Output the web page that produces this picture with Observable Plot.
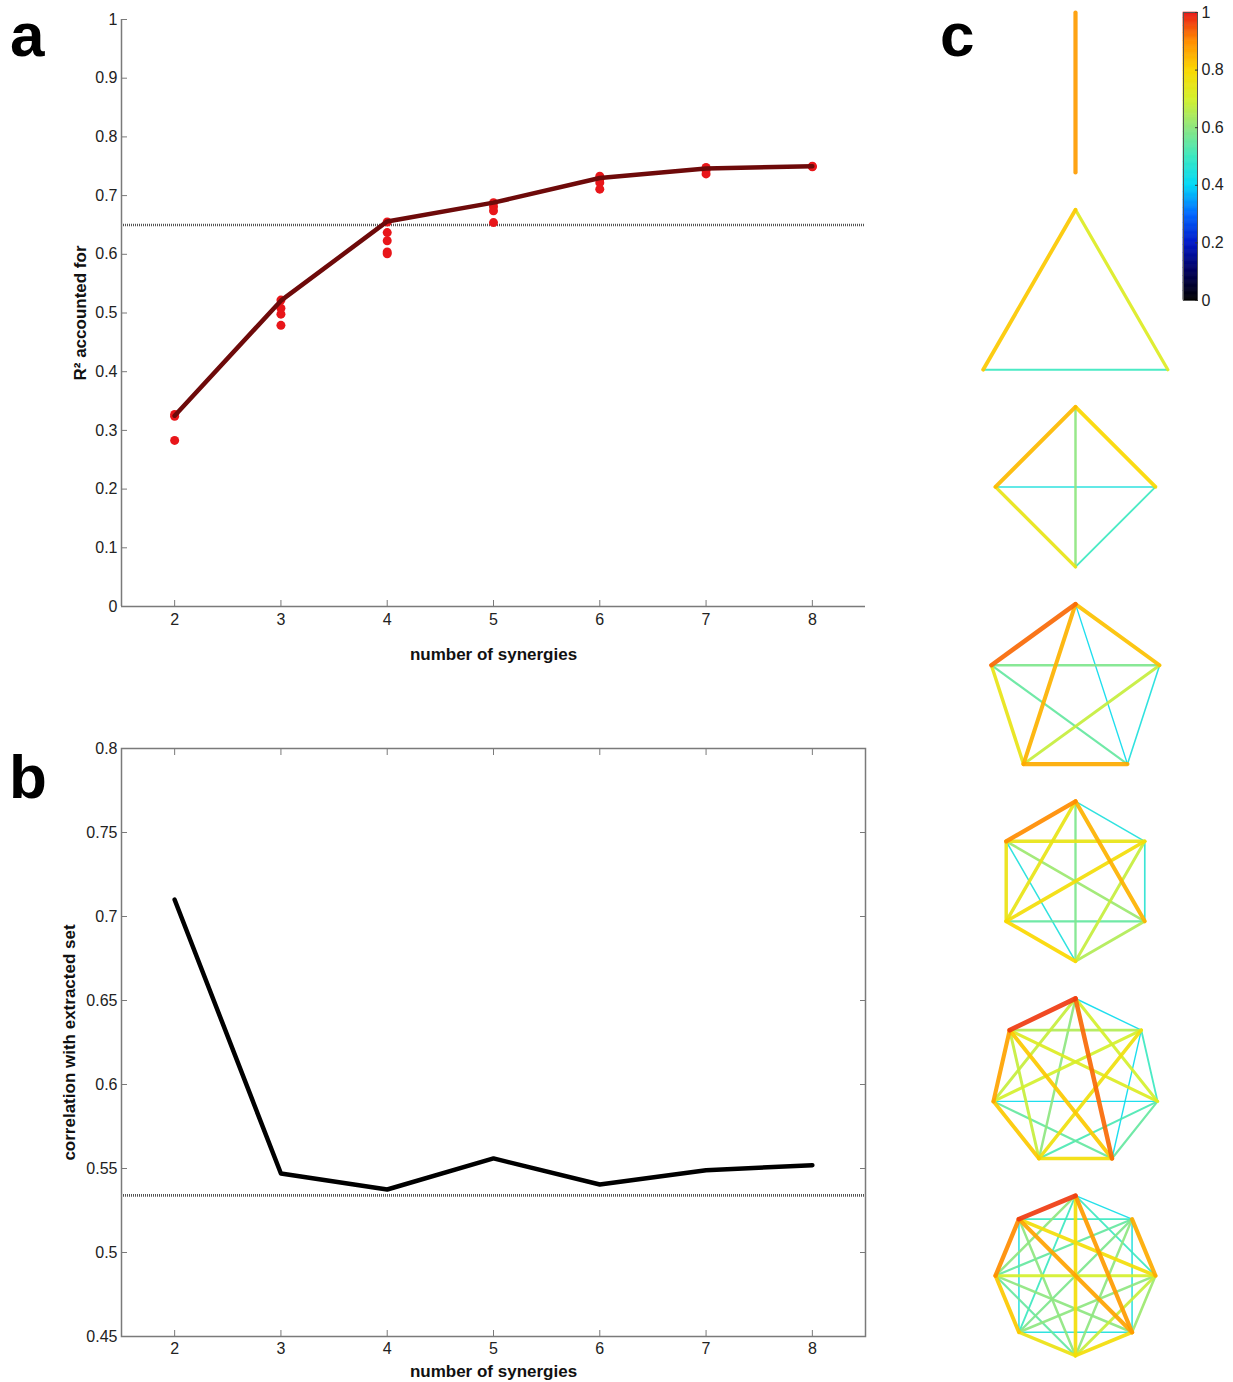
<!DOCTYPE html>
<html><head><meta charset="utf-8">
<script src="https://cdn.jsdelivr.net/npm/d3@7"></script>
<script src="https://cdn.jsdelivr.net/npm/@observablehq/plot@0.6"></script>
<style>
body{margin:0;background:#fff;}
#root{position:relative;width:1233px;height:1382px;overflow:hidden;font-family:"Liberation Sans",Arial,sans-serif;}
.panel{position:absolute;}
.letter{position:absolute;font:bold 62px "Liberation Sans",Arial,sans-serif;line-height:70px;color:#000;}
</style></head><body><div id="root"></div>
<script>
// ---------- data ----------
const synergies = [2, 3, 4, 5, 6, 7, 8];
const r2Mean = [0.325, 0.521, 0.656, 0.688, 0.730, 0.746, 0.750];
const r2SampleK = [2, 2, 2, 3, 3, 3, 3, 4, 4, 4, 4, 4, 5, 5, 5, 5, 6, 6, 6, 6, 7, 7, 7, 8, 8];
const r2SampleV = [0.327, 0.324, 0.283, 0.522, 0.508, 0.498, 0.479, 0.655, 0.637, 0.623, 0.604, 0.601,
                   0.688, 0.681, 0.674, 0.654, 0.733, 0.728, 0.722, 0.711, 0.748, 0.743, 0.737, 0.750, 0.749];
const r2Threshold = 0.65;
const r2Ticks = [0, 0.1, 0.2, 0.3, 0.4, 0.5, 0.6, 0.7, 0.8, 0.9, 1];

const corrMean = [0.710, 0.547, 0.5375, 0.556, 0.5405, 0.549, 0.552];
const corrThreshold = 0.534;
const corrTicks = [0.45, 0.5, 0.55, 0.6, 0.65, 0.7, 0.75, 0.8];

// edge similarity values, pairs (i,j) i<j in lexicographic order; vertex 0 at top, clockwise
const k2Edges = [0.88];
const k3Edges = [0.72, 0.82, 0.50];
const k4Edges = [0.80, 0.60, 0.84, 0.50, 0.45, 0.75];
const k5Edges = [0.83, 0.42, 0.85, 0.93, 0.45, 0.68, 0.58, 0.86, 0.55, 0.75];
const k6Edges = [0.45, 0.85, 0.58, 0.75, 0.90,
                 0.47, 0.68, 0.78, 0.75,
                 0.65, 0.55, 0.62,
                 0.80, 0.45,
                 0.76];
const k7Edges = [0.42, 0.70, 0.93, 0.60, 0.68, 0.97,
                 0.50, 0.42, 0.77, 0.70, 0.65,
                 0.55, 0.52, 0.42, 0.72,
                 0.78, 0.55, 0.82,
                 0.82, 0.68,
                 0.87];
const k8Edges = [0.43, 0.50, 0.88, 0.78, 0.50, 0.60, 0.97,
                 0.86, 0.45, 0.60, 0.58, 0.55, 0.50,
                 0.62, 0.68, 0.60, 0.70, 0.78,
                 0.78, 0.45, 0.60, 0.87,
                 0.76, 0.55, 0.60,
                 0.82, 0.45,
                 0.90];
const colorbarTicks = [0, 0.2, 0.4, 0.6, 0.8, 1];

// ---------- helpers ----------
const jetStops = ["#000000","#00005a","#0018c8","#0068ff","#00d8f8","#3ce8c0","#8ee680","#d4f02c","#fbd800","#ff8c00","#e81818"];
const jet = d3.piecewise(d3.interpolateRgb, jetStops);
const FONT = "Liberation Sans, Arial, sans-serif";
const TICK_FS = 16, LABEL_FS = 17;
const root = document.getElementById("root");
function place(node, left, top) {
  const d = document.createElement("div");
  d.className = "panel"; d.style.left = left + "px"; d.style.top = top + "px";
  d.appendChild(node); root.appendChild(d);
}
function letter(t, left, top) {
  const d = document.createElement("div");
  d.className = "letter"; d.textContent = t; d.style.left = left + "px"; d.style.top = top + "px";
  root.appendChild(d);
}
const axisGray = "#7a7a7a";
const dotted = {stroke: "#555", strokeWidth: 2.6, strokeDasharray: "1,1"};

// ---------- panel a ----------
const meanRows = synergies.map((k, i) => ({k, v: r2Mean[i]}));
const sampleRows = r2SampleK.map((k, i) => ({k, v: r2SampleV[i]}));
const pa = Plot.plot({
  width: 900, height: 680,
  marginLeft: 121, marginRight: 35, marginTop: 19, marginBottom: 74,
  style: {fontFamily: FONT, fontSize: "16px", color: "#222", background: "transparent", overflow: "visible"},
  x: {domain: [1.5, 8.5], label: null},
  y: {domain: [0, 1], label: null},
  marks: [
    Plot.ruleY([r2Threshold], dotted),
    Plot.dot(sampleRows, {x: "k", y: "v", r: 4.5, fill: "#e8161a", stroke: "none"}),
    Plot.line(meanRows, {x: "k", y: "v", stroke: "#6e0a0a", strokeWidth: 4.5}),
    Plot.ruleX([1.5], {stroke: axisGray, strokeWidth: 1.5}),
    Plot.ruleY([0], {stroke: axisGray, strokeWidth: 1.5}),
    Plot.axisX({ticks: synergies, tickSize: -6, tickPadding: 13, label: null, stroke: axisGray, fill: "#222", fontSize: TICK_FS, tickFormat: d => String(d)}),
    Plot.axisY({ticks: r2Ticks, tickSize: -6, tickPadding: 10, label: null, stroke: axisGray, fill: "#222", fontSize: TICK_FS, tickFormat: d => String(d)}),
    Plot.text(["number of synergies"], {frameAnchor: "bottom", dy: 48, fontWeight: "bold", fontSize: LABEL_FS, textAnchor: "middle", lineAnchor: "middle", fill: "#111"}),
    Plot.text(["R² accounted for"], {frameAnchor: "left", dx: -41, rotate: -90, fontWeight: "bold", fontSize: LABEL_FS, textAnchor: "middle", lineAnchor: "middle", fill: "#111"})
  ]
});
place(pa, 0, 0);

// ---------- panel b ----------
const corrRows = synergies.map((k, i) => ({k, v: corrMean[i]}));
const pb = Plot.plot({
  width: 900, height: 682,
  marginLeft: 121, marginRight: 35, marginTop: 48, marginBottom: 46,
  style: {fontFamily: FONT, fontSize: "16px", color: "#222", background: "transparent", overflow: "visible"},
  x: {domain: [1.5, 8.5], label: null},
  y: {domain: [0.45, 0.8], label: null},
  marks: [
    Plot.ruleY([corrThreshold], dotted),
    Plot.line(corrRows, {x: "k", y: "v", stroke: "#000", strokeWidth: 4.5}),
    Plot.frame({stroke: axisGray, strokeWidth: 1.5}),
    Plot.axisX({anchor: "bottom", ticks: synergies, tickSize: -6, tickPadding: 12, label: null, stroke: axisGray, fill: "#222", fontSize: TICK_FS, tickFormat: d => String(d)}),
    Plot.axisX({anchor: "top", ticks: synergies, tickSize: -6, label: null, stroke: axisGray, tickFormat: () => ""}),
    Plot.axisY({anchor: "left", ticks: corrTicks, tickSize: -6, tickPadding: 10, label: null, stroke: axisGray, fill: "#222", fontSize: TICK_FS, tickFormat: d => String(d)}),
    Plot.axisY({anchor: "right", ticks: corrTicks, tickSize: -6, label: null, stroke: axisGray, tickFormat: () => ""}),
    Plot.text(["number of synergies"], {frameAnchor: "bottom", dy: 35, fontWeight: "bold", fontSize: LABEL_FS, textAnchor: "middle", lineAnchor: "middle", fill: "#111"}),
    Plot.text(["correlation with extracted set"], {frameAnchor: "left", dx: -52, rotate: -90, fontWeight: "bold", fontSize: LABEL_FS, textAnchor: "middle", lineAnchor: "middle", fill: "#111"})
  ]
});
place(pb, 0, 700);

// ---------- panel c : graphs ----------
const graphEdgeSets = [k2Edges, k3Edges, k4Edges, k5Edges, k6Edges, k7Edges, k8Edges];
const cW = 230, cH = 1382, cCx = 115, cTop0 = 12, cStep = 197.2, cSize = 160;
const edgeRows = [];
graphEdgeSets.forEach((vals, gi) => {
  const n = gi + 2;
  const unit = d3.range(n).map(k => { const t = 2 * Math.PI * k / n; return [Math.sin(t), -Math.cos(t)]; });
  const ymax = d3.max(unit, u => u[1]);
  const s = cSize / (ymax + 1);
  const top = cTop0 + gi * cStep;
  const P = unit.map(([ux, uy]) => [cCx + s * ux, top + s * (uy + 1)]);
  let e = 0;
  for (let i = 0; i < n; i++) for (let j = i + 1; j < n; j++) {
    edgeRows.push({x1: P[i][0], y1: P[i][1], x2: P[j][0], y2: P[j][1], v: vals[e++]});
  }
});
edgeRows.sort((a, b) => a.v - b.v);
const pc = Plot.plot({
  width: cW, height: cH, margin: 0,
  style: {background: "transparent", overflow: "visible"},
  x: {domain: [0, cW], range: [0, cW], axis: null},
  y: {domain: [0, cH], range: [0, cH], axis: null},
  color: {type: "linear", domain: [0, 1], interpolate: jet},
  marks: [
    Plot.link(edgeRows, {x1: "x1", y1: "y1", x2: "x2", y2: "y2", stroke: "v",
      strokeWidth: d => Math.max(1.4, (d.v - 0.2) * 6.2), strokeLinecap: "round", strokeOpacity: 0.92})
  ]
});
place(pc, 960, 0);

// ---------- colorbar ----------
const strips = d3.range(0, 1, 0.004).map(v => ({y1: v, y2: Math.min(1, v + 0.0045), v: v + 0.002}));
const cb = Plot.plot({
  width: 68, height: 310,
  marginLeft: 18, marginRight: 36, marginTop: 12, marginBottom: 10,
  style: {fontFamily: FONT, fontSize: "16px", color: "#222", background: "transparent", overflow: "visible"},
  x: {axis: null},
  y: {domain: [0, 1], label: null},
  color: {type: "linear", domain: [0, 1], interpolate: jet},
  marks: [
    Plot.rect(strips, {y1: "y1", y2: "y2", fill: "v", stroke: "v", strokeWidth: 0.6}),
    Plot.frame({stroke: "#555", strokeWidth: 1}),
    Plot.axisY({anchor: "right", ticks: colorbarTicks, tickSize: -3, tickPadding: 7, label: null, stroke: "#333", fill: "#222", fontSize: TICK_FS, tickFormat: d => String(d)})
  ]
});
place(cb, 1165, 0);

// ---------- panel letters ----------
letter("a", 10, 0);
letter("b", 9, 742);
letter("c", 940, 0);
</script>
</body></html>
